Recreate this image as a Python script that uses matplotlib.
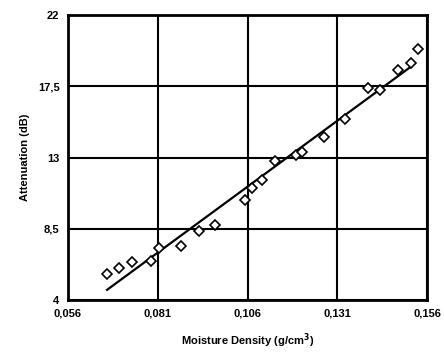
import numpy as np
import matplotlib
matplotlib.use('Agg')
import matplotlib.pyplot as plt

# Data
density = [0.0669, 0.0702, 0.0738, 0.0791, 0.0813, 0.0875, 0.0925, 0.0969,
           0.1053, 0.1073, 0.1100, 0.1137, 0.1195, 0.1212, 0.1273, 0.1332,
           0.1396, 0.1429, 0.1479, 0.1515, 0.1535]
attenuation = [5.64, 6.02, 6.40, 6.46, 7.28, 7.41, 8.36, 8.75,
               10.32, 11.07, 11.58, 12.78, 13.15, 13.35, 14.29, 15.43,
               17.39, 17.26, 18.53, 18.97, 19.85]
x_ticks = [0.056, 0.081, 0.106, 0.131, 0.156]
x_labels = ['0,056', '0,081', '0,106', '0,131', '0,156']
y_ticks = [4, 8.5, 13, 17.5, 22]
y_labels = ['4', '8,5', '13', '17,5', '22']

plt.rcParams['font.family'] = ['Liberation Sans', 'DejaVu Sans']
plt.rcParams['font.weight'] = 'bold'

fig = plt.figure(figsize=(4.44, 3.59), dpi=100)
ax = fig.add_axes([0.153, 0.164, 0.809, 0.794])

# regression line
x = np.array(density)
y = np.array(attenuation)
slope, icpt = np.polyfit(x, y, 1)
xs = np.array([x.min(), x.max() - 0.002])
ax.plot(xs, slope * xs + icpt, color='black', lw=1.6, zorder=3)

ax.plot(density, attenuation, linestyle='none', marker='D', markersize=5,
        markerfacecolor='white', markeredgecolor='black', markeredgewidth=1.2,
        zorder=4)

ax.set_xlim(0.056, 0.156)
ax.set_ylim(4, 22)
ax.set_xticks(x_ticks)
ax.set_xticklabels(x_labels, fontsize=8, fontweight='bold')
ax.set_yticks(y_ticks)
ax.set_yticklabels(y_labels, fontsize=8, fontweight='bold')
ax.tick_params(length=0, pad=6)
ax.grid(True, color='black', lw=1.5)
for s in ax.spines.values():
    s.set_linewidth(2)

ax.set_xlabel('Moisture Density (g/cm$^3$)', fontsize=8, fontweight='bold', labelpad=9)
ax.set_ylabel('Attenuation (dB)', fontsize=8, fontweight='bold', labelpad=6)

fig.savefig('out.png', dpi=100)
